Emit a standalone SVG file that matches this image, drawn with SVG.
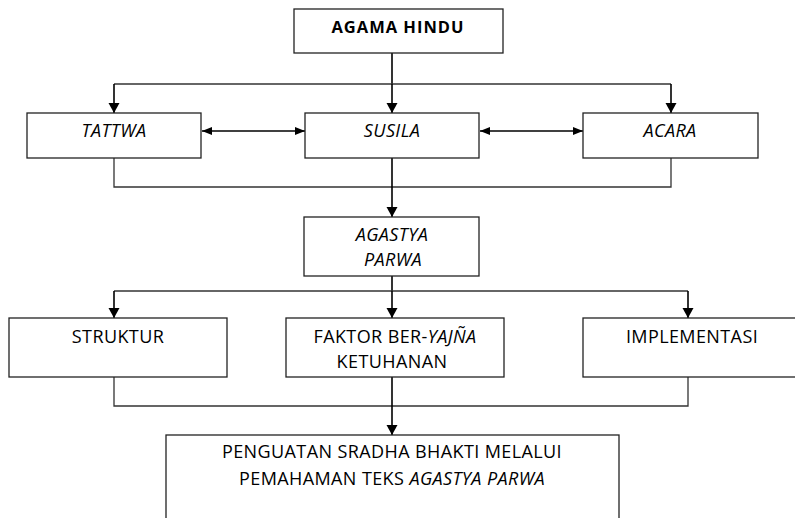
<svg xmlns="http://www.w3.org/2000/svg" width="795" height="518" viewBox="0 0 795 518">
<style>
  .box { fill: #fff; stroke: #222; stroke-width: 1.3; }
  .t { font-family: "Open Sans", "Noto Sans", sans-serif; font-size: 18px; fill: #000; text-anchor: middle; letter-spacing: 0.4px; }
  .b { font-weight: bold; font-size: 16.5px; letter-spacing: 1px; }
  .i { font-style: italic; }
  .arr { fill: none; stroke: #000; stroke-width: 1.6; }
  .ln { fill: none; stroke: #333; stroke-width: 1.3; }
</style>
<defs>
  <marker id="ah" markerUnits="userSpaceOnUse" markerWidth="12" markerHeight="12" refX="10" refY="5.5" orient="auto">
    <path d="M0,0 L10,5.5 L0,11 Z" fill="#000"/>
  </marker>
  <marker id="ahs" markerUnits="userSpaceOnUse" markerWidth="12" markerHeight="12" refX="10" refY="4" orient="auto-start-reverse">
    <path d="M0,0 L10,4 L0,8 Z" fill="#000"/>
  </marker>
</defs>
<g id="connectors">
  <path class="arr" d="M392,53 V84"/>
  <path class="ln" d="M114,84 H671"/>
  <path class="arr" d="M114,84 V113" marker-end="url(#ah)"/>
  <path class="arr" d="M392,84 V113" marker-end="url(#ah)"/>
  <path class="arr" d="M671,84 V113" marker-end="url(#ah)"/>
  <path class="arr" d="M202,131 H305" marker-start="url(#ahs)" marker-end="url(#ahs)"/>
  <path class="arr" d="M480,131 H583" marker-start="url(#ahs)" marker-end="url(#ahs)"/>
  <path class="ln" d="M114,158 V187 H671 V158"/>
  <path class="arr" d="M392,158 V217" marker-end="url(#ah)"/>
  <path class="arr" d="M392,276 V291"/>
  <path class="ln" d="M114,291 H688"/>
  <path class="arr" d="M114,291 V318" marker-end="url(#ah)"/>
  <path class="arr" d="M392,291 V318" marker-end="url(#ah)"/>
  <path class="arr" d="M688,291 V318" marker-end="url(#ah)"/>
  <path class="ln" d="M114,377 V406 H688 V377"/>
  <path class="arr" d="M392,377 V435" marker-end="url(#ah)"/>
</g>
<g id="agama-hindu">
  <rect class="box" x="294" y="9" width="209" height="44"/>
  <text class="t b" x="398" y="33">AGAMA HINDU</text>
</g>
<g id="tattwa">
  <rect class="box" x="27" y="113" width="174" height="45"/>
  <text class="t i" x="114" y="137">TATTWA</text>
</g>
<g id="susila">
  <rect class="box" x="305" y="113" width="174" height="45"/>
  <text class="t i" x="392" y="137">SUSILA</text>
</g>
<g id="acara">
  <rect class="box" x="583" y="113" width="175" height="45"/>
  <text class="t i" x="670" y="137">ACARA</text>
</g>
<g id="agastya-parwa">
  <rect class="box" x="304" y="217" width="175" height="59"/>
  <text class="t i" x="392" y="241">AGASTYA</text>
  <text class="t i" x="393" y="266">PARWA</text>
</g>
<g id="struktur">
  <rect class="box" x="9" y="318" width="218" height="59"/>
  <text class="t" x="118" y="343">STRUKTUR</text>
</g>
<g id="faktor">
  <rect class="box" x="286" y="318" width="218" height="59"/>
  <text class="t" x="395" y="343">FAKTOR BER-<tspan class="i">YAJÑA</tspan></text>
  <text class="t" x="392" y="368">KETUHANAN</text>
</g>
<g id="implementasi">
  <rect class="box" x="583" y="318" width="220" height="59"/>
  <text class="t" x="692" y="343">IMPLEMENTASI</text>
</g>
<g id="penguatan">
  <rect class="box" x="166" y="435" width="453" height="95"/>
  <text class="t" x="392" y="458">PENGUATAN SRADHA BHAKTI MELALUI</text>
  <text class="t" x="392" y="485">PEMAHAMAN TEKS <tspan class="i">AGASTYA PARWA</tspan></text>
</g>
</svg>
